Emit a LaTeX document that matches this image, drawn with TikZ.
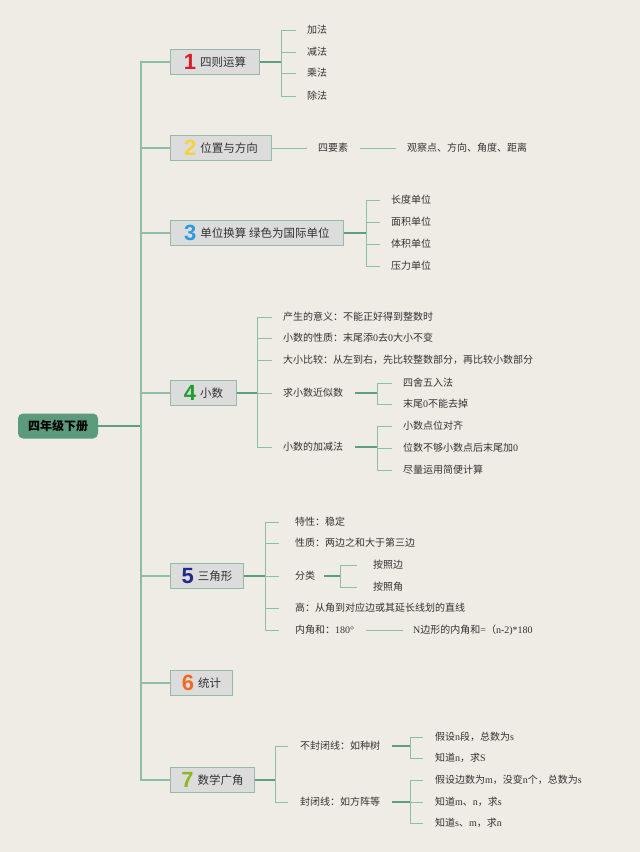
\documentclass[tikz,border=0pt]{standalone}
\usepackage{fontspec}
\setmainfont{Noto Sans CJK SC}
\newfontfamily\latf{Liberation Serif}
\newfontfamily\numf{Liberation Sans}
\definecolor{bgc}{HTML}{EFECE5}
\definecolor{lncol}{HTML}{8DBFA5}
\definecolor{lndark}{HTML}{5E9F7F}
\definecolor{boxfill}{HTML}{DCDCDC}
\definecolor{boxline}{HTML}{93BBA6}
\definecolor{rootfill}{HTML}{5B9B7B}
\definecolor{txt}{HTML}{333333}
\definecolor{c1}{HTML}{D81E2C}
\definecolor{c2}{HTML}{F5D33A}
\definecolor{c3}{HTML}{2B9BE0}
\definecolor{c4}{HTML}{1E9E2E}
\definecolor{c5}{HTML}{1E2A8C}
\definecolor{c6}{HTML}{F26A1E}
\definecolor{c7}{HTML}{8DB81E}
\newcommand\mnum[2]{\raisebox{-3.2pt}{\numf\bfseries\fontsize{22}{22}\selectfont\color{#1}#2}\hspace{4pt}}
\newcommand\lt[1]{{\latf #1}}
\begin{document}
\begin{tikzpicture}[x=1pt,y=-1pt,
  mainbox/.style={draw=boxline, fill=boxfill, line width=0.8pt, minimum height=25pt,
    inner xsep=4pt, inner ysep=0pt, anchor=west, align=center,
    font=\fontsize{11.5}{12}\selectfont, text=txt},
  rootbox/.style={draw=none, fill=rootfill, rounded corners=5pt, minimum width=80pt,
    minimum height=25pt, inner sep=0pt, font=\fontsize{12}{12}\selectfont\bfseries, text=black},
  item/.style={anchor=west, inner xsep=0pt, inner ysep=2pt, font=\fontsize{10}{12}\selectfont, text=txt},
  trunk/.style={draw=lncol, line width=1.3pt},
  ln/.style={draw=lncol, line width=1pt},
  lnd/.style={draw=lndark, line width=1.6pt}]
\fill[bgc] (0,0) rectangle (640,852);
\useasboundingbox (0,0) rectangle (640,852);

% root
\node[rootbox] (root) at (58,426) {四年级下册};

% main boxes
\node[mainbox, minimum width=89pt] (b1) at (170,62) {\mnum{c1}{1}四则运算};
\node[mainbox, minimum width=101pt] (b2) at (170,148) {\mnum{c2}{2}位置与方向};
\node[mainbox, minimum width=173pt] (b3) at (170,233) {\mnum{c3}{3}单位换算 绿色为国际单位};
\node[mainbox, minimum width=66pt] (b4) at (170,393) {\mnum{c4}{4}小数};
\node[mainbox, minimum width=73pt] (b5) at (170,576) {\mnum{c5}{5}三角形};
\node[mainbox, minimum width=62pt] (b6) at (170,683) {\mnum{c6}{6}统计};
\node[mainbox, minimum width=84pt] (b7) at (170,780) {\mnum{c7}{7}数学广角};

% trunk
\coordinate (rj) at (141,426);
\draw[lnd] (root.east) -- (rj);
\foreach \b in {b1,b2,b3,b4,b5,b6,b7} \draw[trunk] (rj) |- (\b.west);

% section 1
\node[item] (i11) at (307,30) {加法};
\node[item] (i12) at (307,52) {减法};
\node[item] (i13) at (307,73) {乘法};
\node[item] (i14) at (307,96) {除法};
\coordinate (j1) at (281,62);
\draw[lnd] (b1.east) -- (j1);
\foreach \i in {i11,i12,i13,i14} \draw[ln] (j1) |- ([xshift=-11pt]\i.west);

% section 2
\node[item] (i21) at (318,148) {四要素};
\node[item] (i22) at (407,148) {观察点、方向、角度、距离};
\draw[ln] (b2.east) -- ([xshift=-11pt]i21.west);
\draw[ln] ([xshift=12pt]i21.east) -- ([xshift=-11pt]i22.west);

% section 3
\node[item] (i31) at (391,200) {长度单位};
\node[item] (i32) at (391,222) {面积单位};
\node[item] (i33) at (391,244) {体积单位};
\node[item] (i34) at (391,266) {压力单位};
\coordinate (j3) at (366,233);
\draw[lnd] (b3.east) -- (j3);
\foreach \i in {i31,i32,i33,i34} \draw[ln] (j3) |- ([xshift=-11pt]\i.west);

% section 4
\node[item] (i41) at (283,317) {产生的意义：不能正好得到整数时};
\node[item] (i42) at (283,338) {小数的性质：末尾添\lt{0}去\lt{0}大小不变};
\node[item] (i43) at (283,360) {大小比较：从左到右，先比较整数部分，再比较小数部分};
\node[item] (i44) at (283,393) {求小数近似数};
\node[item] (i45) at (283,447) {小数的加减法};
\coordinate (j4) at (257,393);
\draw[lnd] (b4.east) -- (j4);
\foreach \i in {i41,i42,i43,i44,i45} \draw[ln] (j4) |- ([xshift=-11pt]\i.west);

\node[item] (i441) at (403,383) {四舍五入法};
\node[item] (i442) at (403,404) {末尾\lt{0}不能去掉};
\coordinate (j44) at (377,393);
\draw[lnd] ([xshift=12pt]i44.east) -- (j44);
\foreach \i in {i441,i442} \draw[ln] (j44) |- ([xshift=-11pt]\i.west);

\node[item] (i451) at (403,426) {小数点位对齐};
\node[item] (i452) at (403,448) {位数不够小数点后末尾加\lt{0}};
\node[item] (i453) at (403,470) {尽量运用简便计算};
\coordinate (j45) at (377,447);
\draw[lnd] ([xshift=12pt]i45.east) -- (j45);
\foreach \i in {i451,i452,i453} \draw[ln] (j45) |- ([xshift=-11pt]\i.west);

% section 5
\node[item] (i51) at (295,522) {特性：稳定};
\node[item] (i52) at (295,543) {性质：两边之和大于第三边};
\node[item] (i53) at (295,576) {分类};
\node[item] (i54) at (295,608) {高：从角到对应边或其延长线划的直线};
\node[item] (i55) at (295,630) {内角和：\lt{180°}};
\coordinate (j5) at (265,576);
\draw[lnd] (b5.east) -- (j5);
\foreach \i in {i51,i52,i53,i54,i55} \draw[ln] (j5) |- ([xshift=-16pt]\i.west);

\node[item] (i531) at (373,565) {按照边};
\node[item] (i532) at (373,587) {按照角};
\coordinate (j53) at (340,576);
\draw[lnd] ([xshift=9pt]i53.east) -- (j53);
\foreach \i in {i531,i532} \draw[ln] (j53) |- ([xshift=-16pt]\i.west);

\node[item] (i551) at (413,630) {\lt{N}边形的内角和\lt{=}（\lt{n-2)*180}};
\draw[ln] ([xshift=12pt]i55.east) -- ([xshift=-10pt]i551.west);

% section 7
\node[item] (i71) at (300,746) {不封闭线：如种树};
\node[item] (i72) at (300,802) {封闭线：如方阵等};
\coordinate (j7) at (275,780);
\draw[lnd] (b7.east) -- (j7);
\foreach \i in {i71,i72} \draw[ln] (j7) |- ([xshift=-12pt]\i.west);

\node[item] (i711) at (435,737) {假设\lt{n}段，总数为\lt{s}};
\node[item] (i712) at (435,758) {知道\lt{n}，求\lt{S}};
\coordinate (j71) at (410,746);
\draw[lnd] ([xshift=12pt]i71.east) -- (j71);
\foreach \i in {i711,i712} \draw[ln] (j71) |- ([xshift=-12pt]\i.west);

\node[item] (i721) at (435,780) {假设边数为\lt{m}，没变\lt{n}个，总数为\lt{s}};
\node[item] (i722) at (435,802) {知道\lt{m}、\lt{n}，求\lt{s}};
\node[item] (i723) at (435,823) {知道\lt{s}、\lt{m}，求\lt{n}};
\coordinate (j72) at (410,802);
\draw[lnd] ([xshift=12pt]i72.east) -- (j72);
\foreach \i in {i721,i722,i723} \draw[ln] (j72) |- ([xshift=-12pt]\i.west);
\end{tikzpicture}
\end{document}
